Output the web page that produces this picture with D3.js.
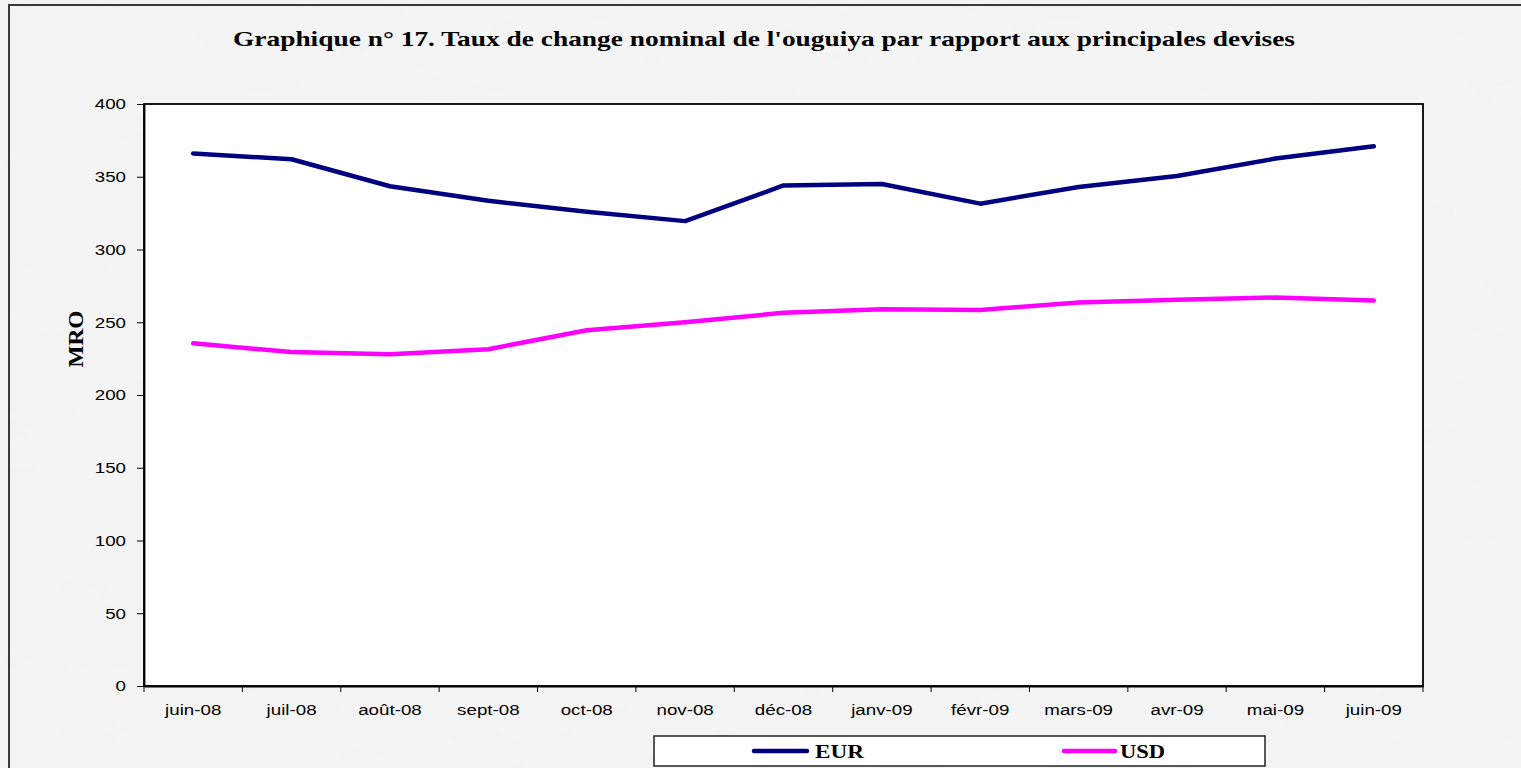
<!DOCTYPE html>
<html>
<head>
<meta charset="utf-8">
<script src="https://cdn.jsdelivr.net/npm/d3@7"></script>
<style>
  body { margin: 0; background: #ffffff; }
  svg { display: block; }
</style>
</head>
<body>
<svg id="chart" width="1521" height="768"></svg>
<script>
// months on the x axis
const months = ["juin-08", "juil-08", "août-08", "sept-08", "oct-08", "nov-08", "déc-08",
  "janv-09", "févr-09", "mars-09", "avr-09", "mai-09", "juin-09"];

// MRO per currency
const eur = [366, 362, 343.5, 333.5, 326, 319.5, 344, 345, 331.5, 343, 350.5, 362.5, 371];
const usd = [235.5, 229.5, 228, 231.5, 244.5, 250, 256.5, 259, 258.5, 263.5, 265.5, 267, 265];

const yTicks = [0, 50, 100, 150, 200, 250, 300, 350, 400];

const series = [
  { name: "EUR", values: eur, color: "#000080" },
  { name: "USD", values: usd, color: "#ff00ff" }
];

const sans = "'Liberation Sans', Arial, sans-serif";
const serif = "'Liberation Serif', 'Times New Roman', serif";
const stretch = 1.25; // the original picture is a bit wide

const svg = d3.select("#chart");

// textured grey background
const defs = svg.append("defs");
const f = defs.append("filter").attr("id", "marble").attr("x", 0).attr("y", 0).attr("width", "100%").attr("height", "100%");
f.append("feTurbulence").attr("type", "fractalNoise").attr("baseFrequency", "0.015 0.04").attr("numOctaves", 3).attr("seed", 4).attr("result", "n");
f.append("feColorMatrix").attr("in", "n").attr("type", "matrix")
  .attr("values", "0 0 0 0 0.88  0 0 0 0 0.88  0 0 0 0 0.88  0.3 0.3 0.3 0 -0.35").attr("result", "c");
f.append("feComposite").attr("in", "c").attr("in2", "SourceGraphic").attr("operator", "over");

svg.append("rect").attr("x", 0).attr("y", 0).attr("width", 1521).attr("height", 768).attr("fill", "#f4f4f4");
svg.append("rect").attr("x", 0).attr("y", 0).attr("width", 1521).attr("height", 768)
  .attr("fill", "#f4f4f4").attr("filter", "url(#marble)");

// outer frame
svg.append("rect").attr("x", 9).attr("y", 5).attr("width", 1530).attr("height", 780)
  .attr("fill", "none").attr("stroke", "#3a3a3a").attr("stroke-width", 2);

const margin = { top: 104, right: 98, bottom: 82, left: 144 };
const width = 1521 - margin.left - margin.right;
const height = 768 - margin.top - margin.bottom;

const g = svg.append("g").attr("transform", `translate(${margin.left},${margin.top})`);

g.append("rect").attr("width", width).attr("height", height).attr("fill", "#fff");

const x = d3.scaleBand().domain(months).range([0, width]);
const y = d3.scaleLinear().domain([0, 400]).range([height, 0]);

// plot frame
g.append("rect").attr("width", width).attr("height", height)
  .attr("fill", "none").attr("stroke", "#000").attr("stroke-width", 1.8);

// y axis
const yAxis = g.append("g").call(d3.axisLeft(y).tickValues(yTicks).tickSize(7).tickSizeOuter(0));
yAxis.select(".domain").attr("stroke", "#000").attr("stroke-width", 1.8);
yAxis.selectAll(".tick line").attr("stroke", "#000");
yAxis.selectAll(".tick text")
  .attr("x", -18 / stretch)
  .attr("transform", `scale(${stretch},1)`)
  .attr("font-family", sans).attr("font-size", 15).attr("fill", "#000");

// x axis, ticks between the categories
const xAxis = g.append("g").attr("transform", `translate(0,${height})`)
  .call(d3.axisBottom(x).tickSize(0).tickPadding(18));
xAxis.select(".domain").attr("stroke", "#000").attr("stroke-width", 1.8);
xAxis.selectAll(".tick text")
  .attr("transform", `scale(${stretch},1)`)
  .attr("font-family", sans).attr("font-size", 15).attr("fill", "#000");
g.append("g").selectAll("line")
  .data(months.map(m => x(m)).concat([width]))
  .join("line")
  .attr("x1", d => d).attr("x2", d => d)
  .attr("y1", height).attr("y2", height + 6)
  .attr("stroke", "#000");

// lines
const line = d3.line()
  .x((d, i) => x(months[i]) + x.bandwidth() / 2)
  .y(d => y(d));

g.selectAll(".series")
  .data(series)
  .join("path")
  .attr("class", "series")
  .attr("d", d => line(d.values))
  .attr("fill", "none")
  .attr("stroke", d => d.color)
  .attr("stroke-width", 4.5)
  .attr("stroke-linecap", "round")
  .attr("stroke-linejoin", "round");

// title
svg.append("text")
  .attr("x", 764).attr("y", 46)
  .attr("text-anchor", "middle")
  .attr("font-family", serif)
  .attr("font-weight", "bold").attr("font-size", 22)
  .attr("textLength", 1062).attr("lengthAdjust", "spacingAndGlyphs")
  .text("Graphique n° 17. Taux de change nominal de l'ouguiya par rapport aux principales devises");

// y label
svg.append("text")
  .attr("transform", "translate(83,339) rotate(-90)")
  .attr("text-anchor", "middle")
  .attr("font-family", serif)
  .attr("font-weight", "bold").attr("font-size", 21)
  .attr("textLength", 57).attr("lengthAdjust", "spacingAndGlyphs")
  .text("MRO");

// legend
const legend = svg.append("g").attr("transform", "translate(654,736)");
legend.append("rect").attr("width", 611).attr("height", 30)
  .attr("fill", "#fff").attr("stroke", "#222").attr("stroke-width", 1.5);
const legendPos = [
  { line: [100, 153], text: 161, len: 49 },
  { line: [410, 461], text: 466, len: 45 }
];
const items = legend.selectAll(".item")
  .data(series)
  .join("g")
  .attr("class", "item")
  .attr("transform", "translate(0,15)");
items.append("line")
  .attr("x1", (d, i) => legendPos[i].line[0]).attr("x2", (d, i) => legendPos[i].line[1])
  .attr("stroke", d => d.color).attr("stroke-width", 4.5).attr("stroke-linecap", "round");
items.append("text")
  .attr("x", (d, i) => legendPos[i].text).attr("y", 7)
  .attr("font-family", serif)
  .attr("font-weight", "bold").attr("font-size", 19)
  .attr("textLength", (d, i) => legendPos[i].len).attr("lengthAdjust", "spacingAndGlyphs")
  .text(d => d.name);
</script>
</body>
</html>
